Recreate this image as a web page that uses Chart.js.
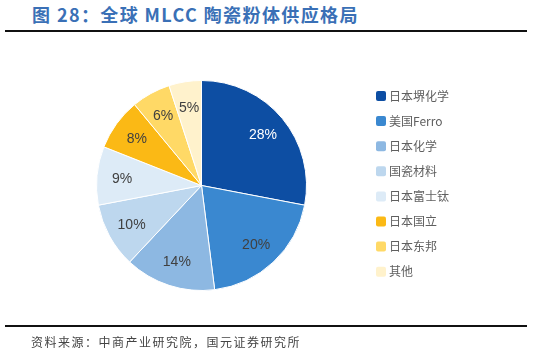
<!DOCTYPE html>
<html>
<head>
<meta charset="utf-8">
<script src="https://cdn.jsdelivr.net/npm/chart.js@4/dist/chart.umd.min.js"></script>
<style>
  html,body{margin:0;padding:0;background:#fff;}
  #wrap{position:relative;width:533px;height:355px;overflow:hidden;}
  #title{position:absolute;left:32px;top:1px;font-family:"Noto Sans CJK SC","Liberation Sans",sans-serif;font-weight:bold;font-size:18px;color:#3a70b6;white-space:nowrap;letter-spacing:1.4px;}
  .rule{position:absolute;left:5px;width:522px;height:2px;background:#111;}
  #source{position:absolute;left:31px;top:333px;font-family:"Noto Sans CJK SC",sans-serif;font-size:12px;color:#444;white-space:nowrap;letter-spacing:1.5px;}
  canvas{position:absolute;left:0;top:0;}
</style>
</head>
<body>
<div id="wrap">
  <div id="title">图 28：全球 MLCC 陶瓷粉体供应格局</div>
  <div class="rule" style="top:30px"></div>
  <canvas id="c" width="533" height="355"></canvas>
  <div class="rule" style="top:325px"></div>
  <div id="source">资料来源：中商产业研究院，国元证券研究所</div>
</div>
<script>
const categories = ["日本堺化学", "美国Ferro", "日本化学", "国瓷材料", "日本富士钛", "日本国立", "日本东邦", "其他"];
const shares = [28, 20, 14, 10, 9, 8, 6, 5];
const sliceColors = ["#0d4ea3", "#3a88d0", "#8db8e2", "#bdd7ee", "#ddebf7", "#fbb915", "#ffd966", "#fff2cc"];
const labelColors = ["#ffffff", "#404040", "#404040", "#404040", "#404040", "#404040", "#404040", "#404040"];

const labelPlugin = {
  id: "sliceLabels",
  afterDatasetsDraw(chart) {
    const ctx = chart.ctx;
    const meta = chart.getDatasetMeta(0);
    ctx.save();
    ctx.font = '14px "Liberation Sans", Arial, sans-serif';
    ctx.textAlign = "center";
    ctx.textBaseline = "middle";
    meta.data.forEach((arc, i) => {
      const p = arc.getProps(["x", "y", "startAngle", "endAngle", "outerRadius"], true);
      const mid = (p.startAngle + p.endAngle) / 2;
      const r = p.outerRadius * 0.76;
      ctx.fillStyle = labelColors[i];
      ctx.fillText(shares[i] + "%", p.x + Math.cos(mid) * r, p.y + Math.sin(mid) * r + 1);
    });
    ctx.restore();
  }
};

const legendPlugin = {
  id: "sideLegend",
  afterDraw(chart) {
    const ctx = chart.ctx;
    const x0 = 376, y0 = 96, step = 25.1;
    ctx.save();
    ctx.font = '12px "Noto Sans CJK SC", sans-serif';
    ctx.textBaseline = "middle";
    ctx.textAlign = "left";
    categories.forEach((name, i) => {
      const y = y0 + i * step;
      ctx.fillStyle = sliceColors[i];
      ctx.beginPath();
      if (ctx.roundRect) ctx.roundRect(x0, y - 5, 10, 10, 2); else ctx.rect(x0, y - 5, 10, 10);
      ctx.fill();
      ctx.fillStyle = "#5f5f5f";
      ctx.fillText(name, x0 + 13, y);
    });
    ctx.restore();
  }
};

new Chart(document.getElementById("c"), {
  type: "pie",
  data: {
    labels: categories,
    datasets: [{
      data: shares,
      backgroundColor: sliceColors,
      borderColor: "#ffffff",
      borderWidth: 1
    }]
  },
  options: {
    responsive: false,
    animation: false,
    layout: { padding: { left: 96, right: 226, top: 80, bottom: 64 } },
    plugins: {
      legend: { display: false },
      tooltip: { enabled: false }
    }
  },
  plugins: [labelPlugin, legendPlugin]
});
</script>
</body>
</html>
